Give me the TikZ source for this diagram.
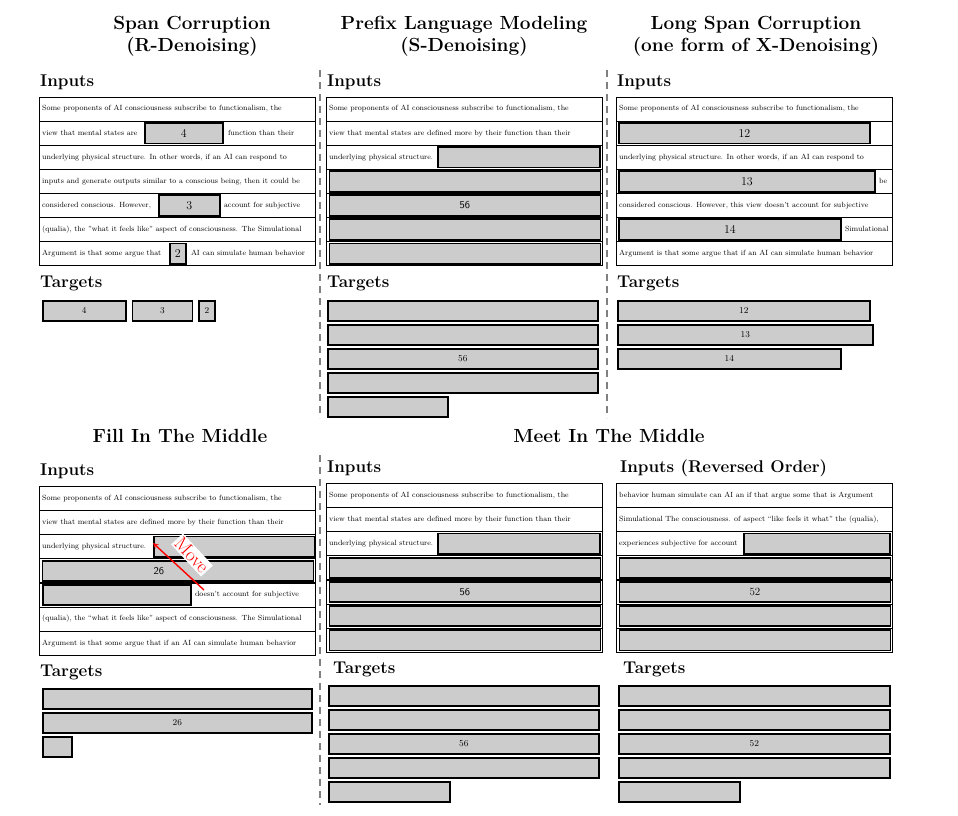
\documentclass[tikz,border=0pt]{standalone}
\usetikzlibrary{positioning}

\definecolor{maskgray}{RGB}{204,204,204}
\definecolor{sepgray}{RGB}{128,128,128}
\newcommand\seqfont{\fontsize{7.5}{9}\selectfont}
\newcommand\lblfont{\fontsize{12}{13}\selectfont}
\newcommand\tgtfont{\fontsize{9}{10}\selectfont}
\newcommand\sflbl{\fontsize{10.5}{11}\selectfont\sffamily}

\tikzset{
  rowcell/.style={draw, line width=1.1pt, minimum width=276pt, minimum height=24.1pt, inner sep=0pt, anchor=north west},
  maskcell/.style={draw, fill=maskgray, line width=1.8pt, minimum height=20.5pt, inner sep=0pt, anchor=west, font=\lblfont},
  seqtext/.style={inner sep=0pt, anchor=west, text height=5.2pt, text depth=1.5pt, font=\seqfont},
  tgtbox/.style={draw, fill=maskgray, line width=1.6pt, minimum height=20pt, inner sep=0pt, anchor=north west, font=\tgtfont},
  heading/.style={anchor=west, inner sep=0pt, font=\fontsize{17}{20}\selectfont\bfseries},
  paneltitle/.style={align=center, inner sep=0pt, font=\fontsize{19}{22}\selectfont\bfseries},
  panelsep/.style={draw=sepgray, line width=1.5pt, dash pattern=on 7pt off 5pt},
}

\begin{document}
\begin{tikzpicture}[x=1pt,y=-1pt]
    \useasboundingbox (0,0) rectangle (958,815);

    \node[paneltitle] (tsc) at (192,36) {Span Corruption\\(R-Denoising)};
    \node[paneltitle] (tpl) at (464,36) {Prefix Language Modeling\\(S-Denoising)};
    \node[paneltitle] (tls) at (756,36) {Long Span Corruption\\(one form of X-Denoising)};
    \node[paneltitle] (tfm) at (180,436) {Fill In The Middle};
    \node[paneltitle] (tmm) at (609,436) {Meet In The Middle};

    \draw[panelsep] (320,70) -- (320,418);
    \draw[panelsep] (607,70) -- (607,418);
    \draw[panelsep] (320,455) -- (320,805);

    \foreach \n/\x/\y/\t in {hsc/40/82/Inputs, hpl/327/82/Inputs, hls/617/82/Inputs,
        hfm/40/471/Inputs, hml/327/468/Inputs, hmr/620/468/{Inputs (Reversed Order)},
        gsc/40/283/Targets, gpl/327/283/Targets, gls/617/283/Targets,
        gfm/40/672/Targets, gml/333/669/Targets, gmr/623/669/Targets}
        \node[heading] (\n) at (\x,\y) {\t};

    \foreach \p/\x/\y in {sc/39/96.5, pl/326/96.5, ls/616/96.5, fm/39/486, ml/326/483, mr/616/483}
        \foreach \i in {0,...,6}
            \node[rowcell] (\p\i) at (\x,{\y+24.1*\i}) {};

    % span corruption
    \node[seqtext] (sc0t) at ([xshift=3pt]sc0.west) {Some proponents of AI consciousness subscribe to functionalism, the};
    \node[seqtext] (sc1t) at ([xshift=3pt]sc1.west) {view that mental states are};
    \node[maskcell, minimum width=78pt] (sc1m) at ([xshift=105pt]sc1.west) {4};
    \node[seqtext, right=4pt of sc1m] (sc1u) {function than their};
    \node[seqtext] (sc2t) at ([xshift=3pt]sc2.west) {underlying physical structure. In other words, if an AI can respond to};
    \node[seqtext] (sc3t) at ([xshift=3pt]sc3.west) {inputs and generate outputs similar to a conscious being, then it could be};
    \node[seqtext] (sc4t) at ([xshift=3pt]sc4.west) {considered conscious. However,};
    \node[maskcell, minimum width=61pt] (sc4m) at ([xshift=119pt]sc4.west) {3};
    \node[seqtext, right=3pt of sc4m] (sc4u) {account for subjective};
    \node[seqtext] (sc5t) at ([xshift=3pt]sc5.west) {(qualia), the "what it feels like" aspect of consciousness. The Simulational};
    \node[seqtext] (sc6t) at ([xshift=3pt]sc6.west) {Argument is that some argue that};
    \node[maskcell, minimum width=16pt] (sc6m) at ([xshift=130pt]sc6.west) {2};
    \node[seqtext, right=4pt of sc6m] (sc6u) {AI can simulate human behavior};

    \node[tgtbox, minimum width=83pt] (scg1) at (42,300) {4};
    \node[tgtbox, minimum width=60pt, right=5pt of scg1] (scg2) {3};
    \node[tgtbox, minimum width=16pt, right=5pt of scg2] (scg3) {2};

    % prefix lm
    \node[seqtext] (pl0t) at ([xshift=3pt]pl0.west) {Some proponents of AI consciousness subscribe to functionalism, the};
    \node[seqtext] (pl1t) at ([xshift=3pt]pl1.west) {view that mental states are defined more by their function than their};
    \node[seqtext] (pl2t) at ([xshift=3pt]pl2.west) {underlying physical structure.};
    \node[maskcell, minimum width=162pt] (pl2m) at ([xshift=111pt]pl2.west) {};
    \foreach \i/\l in {3/{}, 4/{\sflbl 56}, 5/{}, 6/{}}
        \node[maskcell, minimum width=271pt] (pl\i m) at ([xshift=2.5pt]pl\i.west) {\l};

    \foreach \y/\w/\l [count=\k] in {300/270/{}, 324/270/{}, 348/270/56, 372/270/{}, 396/120/{}}
        \node[tgtbox, minimum width=\w] (plg\k) at (327,\y) {\l};

    % long span corruption
    \node[seqtext] (ls0t) at ([xshift=3pt]ls0.west) {Some proponents of AI consciousness subscribe to functionalism, the};
    \node[maskcell, minimum width=251pt] (ls1m) at ([xshift=2pt]ls1.west) {12};
    \node[seqtext] (ls2t) at ([xshift=3pt]ls2.west) {underlying physical structure. In other words, if an AI can respond to};
    \node[maskcell, minimum width=256pt] (ls3m) at ([xshift=2pt]ls3.west) {13};
    \node[seqtext, right=3pt of ls3m] (ls3u) {be};
    \node[seqtext] (ls4t) at ([xshift=3pt]ls4.west) {considered conscious. However, this view doesn't account for subjective};
    \node[maskcell, minimum width=222pt] (ls5m) at ([xshift=2pt]ls5.west) {14};
    \node[seqtext, right=3pt of ls5m] (ls5u) {Simulational};
    \node[seqtext] (ls6t) at ([xshift=3pt]ls6.west) {Argument is that some argue that if an AI can simulate human behavior};

    \foreach \y/\w/\l [count=\k] in {300/252/12, 324/255/13, 348/223/14}
        \node[tgtbox, minimum width=\w] (lsg\k) at (617,\y) {\l};

    % fill in the middle
    \node[seqtext] (fm0t) at ([xshift=3pt]fm0.west) {Some proponents of AI consciousness subscribe to functionalism, the};
    \node[seqtext] (fm1t) at ([xshift=3pt]fm1.west) {view that mental states are defined more by their function than their};
    \node[seqtext] (fm2t) at ([xshift=3pt]fm2.west) {underlying physical structure.};
    \node[maskcell, minimum width=161pt] (fm2m) at ([xshift=114pt]fm2.west) {};
    \node[maskcell, minimum width=271pt] (fm3m) at ([xshift=2.5pt]fm3.west) {};
    \node[font=\sflbl, inner sep=0pt] (fm3l) at ([xshift=-19pt]fm3m.center) {26};
    \node[maskcell, minimum width=148pt] (fm4m) at ([xshift=3pt]fm4.west) {};
    \node[seqtext, right=3pt of fm4m] (fm4u) {doesn't account for subjective};
    \node[seqtext] (fm5t) at ([xshift=3pt]fm5.west) {(qualia), the ``what it feels like'' aspect of consciousness. The Simulational};
    \node[seqtext] (fm6t) at ([xshift=3pt]fm6.west) {Argument is that some argue that if an AI can simulate human behavior};

    \node[rotate=-47, fill=white, text=red, inner sep=1.5pt, font=\fontsize{19}{20}\selectfont] (mv) at (192,555) {Move};
    \coordinate (mvfrom) at (204,590);
    \coordinate (mvto) at (153,543);
    \draw[red, line width=1.4pt, -stealth] (mvfrom) -- (mvto);

    \foreach \y/\w/\l [count=\k] in {688/269/{}, 712/269/26, 736/29/{}}
        \node[tgtbox, minimum width=\w] (fmg\k) at (42,\y) {\l};

    % meet in the middle, left
    \node[seqtext] (ml0t) at ([xshift=3pt]ml0.west) {Some proponents of AI consciousness subscribe to functionalism, the};
    \node[seqtext] (ml1t) at ([xshift=3pt]ml1.west) {view that mental states are defined more by their function than their};
    \node[seqtext] (ml2t) at ([xshift=3pt]ml2.west) {underlying physical structure.};
    \node[maskcell, minimum width=162pt] (ml2m) at ([xshift=111pt]ml2.west) {};
    \foreach \i/\l in {3/{}, 4/{\sflbl 56}, 5/{}, 6/{}}
        \node[maskcell, minimum width=271pt] (ml\i m) at ([xshift=2.5pt]ml\i.west) {\l};

    \foreach \y/\w/\l [count=\k] in {685/270/{}, 709/270/{}, 733/270/56, 757/270/{}, 781/121/{}}
        \node[tgtbox, minimum width=\w] (mlg\k) at (328,\y) {\l};

    % meet in the middle, right (reversed)
    \node[seqtext] (mr0t) at ([xshift=3pt]mr0.west) {behavior human simulate can AI an if that argue some that is Argument};
    \node[seqtext] (mr1t) at ([xshift=3pt]mr1.west) {Simulational The consciousness. of aspect “like feels it what” the (qualia),};
    \node[seqtext] (mr2t) at ([xshift=3pt]mr2.west) {experiences subjective for account};
    \node[maskcell, minimum width=146pt] (mr2m) at ([xshift=127pt]mr2.west) {};
    \foreach \i/\l in {3/{}, 4/{\fontsize{11}{12}\selectfont 52}, 5/{}, 6/{}}
        \node[maskcell, minimum width=271pt] (mr\i m) at ([xshift=2.5pt]mr\i.west) {\l};

    \foreach \y/\w/\l [count=\k] in {685/271/{}, 709/271/{}, 733/271/52, 757/271/{}, 781/121/{}}
        \node[tgtbox, minimum width=\w] (mrg\k) at (618,\y) {\l};
\end{tikzpicture}
\end{document}
